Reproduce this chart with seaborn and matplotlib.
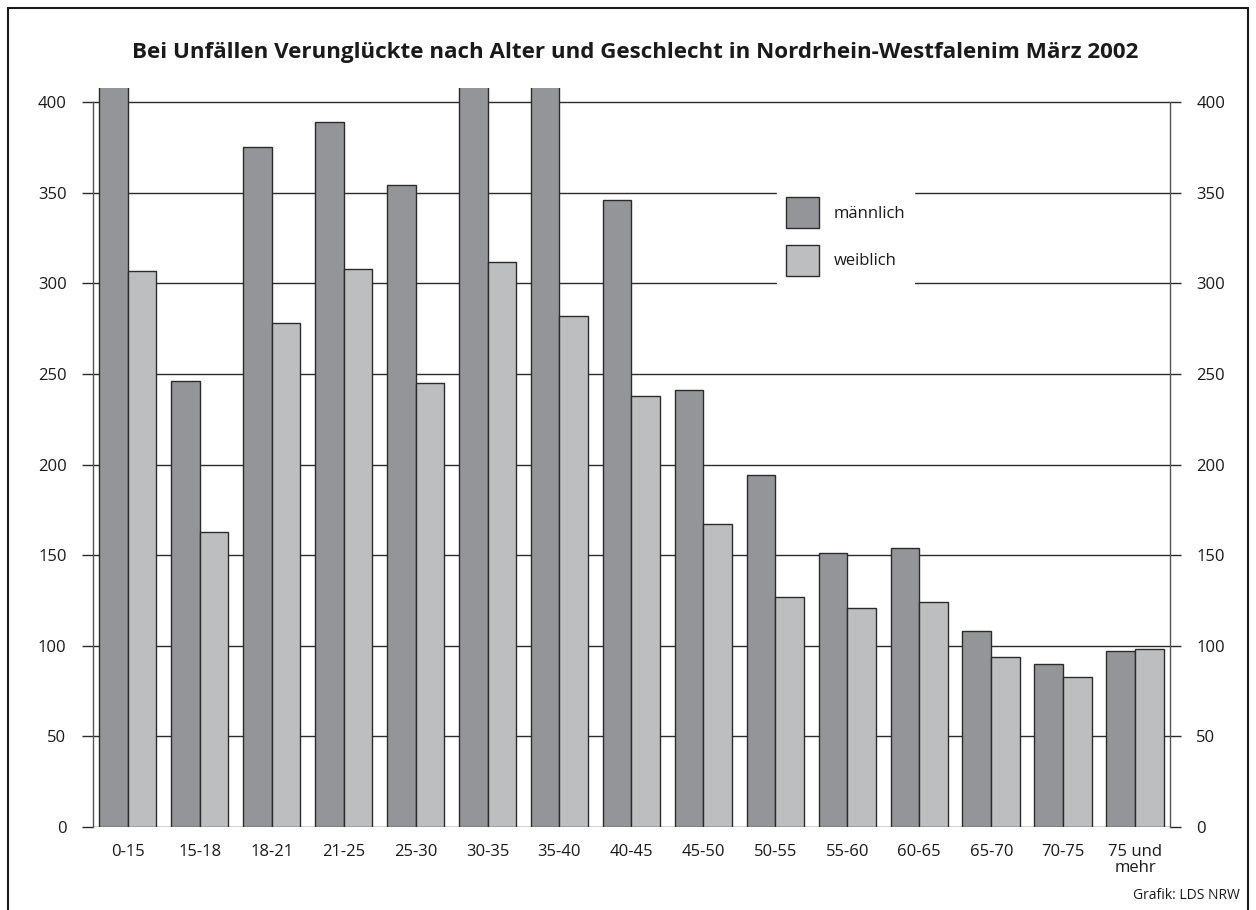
import pandas as pd
import matplotlib
matplotlib.use("Agg")
import matplotlib.pyplot as plt
import matplotlib.patches as mpatches
import seaborn as sns

# data (values above 400 are cut off in the original)
age_groups = ["0-15", "15-18", "18-21", "21-25", "25-30", "30-35", "35-40", "40-45",
              "45-50", "50-55", "55-60", "60-65", "65-70", "70-75", "75 und\nmehr"]
maennlich = [430, 246, 375, 389, 354, 430, 430, 346, 241, 194, 151, 154, 108, 90, 97]
weiblich = [307, 163, 278, 308, 245, 312, 282, 238, 167, 127, 121, 124, 94, 83, 98]
series_names = ["männlich", "weiblich"]
colors = ["#939598", "#bcbec0"]
y_ticks = [0, 50, 100, 150, 200, 250, 300, 350, 400]

df = pd.DataFrame({
    "Alter": age_groups * 2,
    "Wert": maennlich + weiblich,
    "Geschlecht": [series_names[0]] * len(age_groups) + [series_names[1]] * len(age_groups),
})

sns.set_theme(style="white")
plt.rcParams["font.family"] = ["Open Sans", "DejaVu Sans"]

fig = plt.figure(figsize=(12.56, 9.10), dpi=100)
ax = fig.add_axes([0.074, 0.0912, 0.8575, 0.8126])

sns.barplot(data=df, x="Alter", y="Wert", hue="Geschlecht", palette=colors,
            edgecolor="#2b2b2b", linewidth=1.0, width=0.8, saturation=1,
            legend=False, ax=ax)

ax.set_ylim(0, 408)
ax.set_xlim(-0.483, len(age_groups) - 1 + 0.483)
ax.set_yticks(y_ticks)
ax.set_xlabel("")
ax.set_ylabel("")

ax.set_axisbelow(True)
ax.yaxis.grid(True, color="#2b2b2b", linewidth=1.0)
ax.xaxis.grid(False)
for side in ["top", "bottom"]:
    ax.spines[side].set_visible(False)
for side in ["left", "right"]:
    ax.spines[side].set_visible(True)
    ax.spines[side].set_color("#555555")
    ax.spines[side].set_linewidth(1.0)
    ax.spines[side].set_bounds(0, 400)

ax.tick_params(axis="y", which="both", left=True, right=True, labelleft=True, labelright=True,
               direction="out", length=8, width=1.0, color="#2b2b2b",
               labelsize=12, pad=11, labelcolor="#1a1a1a")
ax.tick_params(axis="x", bottom=False, labelsize=12, pad=6, labelcolor="#1a1a1a")
for lab in ax.get_xticklabels():
    lab.set_linespacing(1.0)

# legend
handles = [mpatches.Patch(facecolor=c, edgecolor="#2b2b2b", linewidth=1.0) for c in colors]
leg = ax.legend(handles, series_names, loc="upper left", bbox_to_anchor=(0.635, 0.864),
                frameon=True, fontsize=12, handlelength=1.95, handleheight=2.5,
                handletextpad=0.9, labelspacing=0.97, borderpad=0.55, borderaxespad=0)
leg.get_frame().set_facecolor("white")
leg.get_frame().set_edgecolor("white")
leg.get_frame().set_alpha(1)
for t in leg.get_texts():
    t.set_color("#1a1a1a")

fig.text(0.5056, 0.942, "Bei Unfällen Verunglückte nach Alter und Geschlecht in Nordrhein-Westfalenim März 2002",
         ha="center", va="center", fontsize=16.1, fontweight="bold", color="#1a1a1a")
fig.text(0.987, 0.016, "Grafik: LDS NRW", ha="right", va="center", fontsize=10, color="#1a1a1a")

# outer frame
fig.patches.append(mpatches.Rectangle((0.0066, -0.05), 0.9870, 1.041, transform=fig.transFigure,
                                      fill=False, edgecolor="#1a1a1a", linewidth=1.5))

fig.savefig("out.png", dpi=100)
